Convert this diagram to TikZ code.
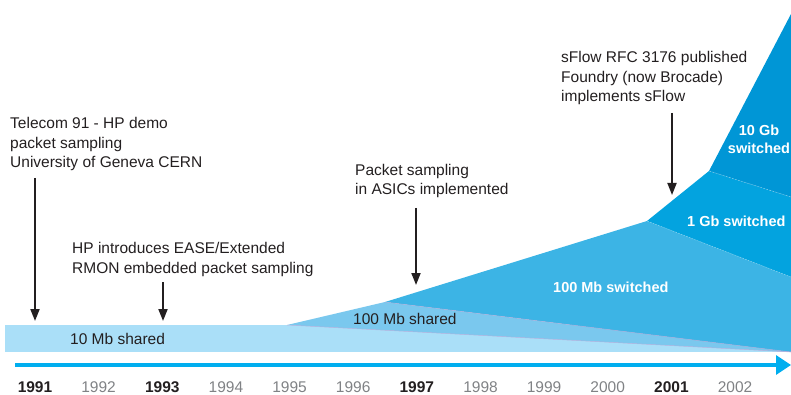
\documentclass[tikz,border=0pt]{standalone}
\usepackage{fontspec}
\setmainfont{Liberation Sans}
\usetikzlibrary{arrows.meta}

\definecolor{ink}{HTML}{231F20}
\definecolor{yeargray}{HTML}{808285}
\definecolor{tenshared}{HTML}{AADFF8}
\definecolor{hundredshared}{HTML}{7AC8EE}
\definecolor{hundredswitched}{HTML}{3CB4E5}
\definecolor{gigswitched}{HTML}{03A3DF}
\definecolor{tengigswitched}{HTML}{0096D6}
\definecolor{timeline}{HTML}{00AEEF}
\definecolor{seam}{HTML}{C9A6D6}

\begin{document}
\begin{tikzpicture}[x=1pt,y=-1pt,
  % multi-line notes are anchored on the baseline of their last line
  note/.style={anchor=base west, inner sep=0pt, align=left, text=ink,
    font=\fontsize{15.5}{19.5}\selectfont},
  yearlabel/.style={anchor=base, inner sep=0pt, font=\fontsize{15.5}{19}\selectfont},
  majoryear/.style={yearlabel, text=ink, font=\bfseries\fontsize{15.5}{19}\selectfont},
  minoryear/.style={yearlabel, text=yeargray},
  bandlabel/.style={anchor=base west, inner sep=0pt, text=ink,
    font=\fontsize{15.5}{19}\selectfont},
  switchlabel/.style={anchor=base west, inner sep=0pt, text=white, align=center,
    font=\bfseries\fontsize{14.5}{18}\selectfont},
  pointer/.style={draw=ink, line width=1.8pt, -{Triangle[length=12pt,width=9pt]}},
  sharedseam/.style={draw=seam, line width=0.5pt, opacity=0.7},
  switchseam/.style={draw=white, line width=0.5pt, opacity=0.35, dash pattern=on 2pt off 1pt}
]
\useasboundingbox (0,0) rectangle (791,395);

% technology layers, back to front
\fill[tenshared] (5,325) rectangle (791,352);
\fill[hundredshared] (287,325) -- (385,302) -- (791,352) -- cycle;
\fill[hundredswitched] (385,302) -- (647,221) -- (791,277) -- (791,352) -- cycle;
\fill[gigswitched] (647,221) -- (709,171) -- (791,197) -- (791,277) -- cycle;
\fill[tengigswitched] (709,171) -- (791,14) -- (791,197) -- cycle;

% seams between layers
\draw[sharedseam] (287,325) -- (791,352);
\draw[sharedseam] (385,302) -- (791,352);
\draw[switchseam] (647,221) -- (791,277);
\draw[switchseam] (709,171) -- (791,197);

% layer labels
\node[bandlabel] (lbl10s) at (70,344) {10 Mb shared};
\node[bandlabel] (lbl100s) at (353,324) {100 Mb shared};
\node[switchlabel] (lbl100w) at (553,292) {100 Mb switched};
\node[switchlabel] (lbl1g) at (687,226) {1 Gb switched};
\node[switchlabel, anchor=base] (lbl10g) at (759,154) {10 Gb\\switched};

% timeline
\coordinate (tstart) at (15,365);
\coordinate (tend) at (791,365);
\draw[timeline, line width=3.4pt, -{Triangle[length=15pt,width=19pt]}] (tstart) -- (tend);

% years
\node[majoryear] (y1991) at (35,392) {1991};
\node[minoryear] (y1992) at (98.6,392) {1992};
\node[majoryear] (y1993) at (162.3,392) {1993};
\node[minoryear] (y1994) at (225.9,392) {1994};
\node[minoryear] (y1995) at (289.5,392) {1995};
\node[minoryear] (y1996) at (353.2,392) {1996};
\node[majoryear] (y1997) at (416.8,392) {1997};
\node[minoryear] (y1998) at (480.5,392) {1998};
\node[minoryear] (y1999) at (544.1,392) {1999};
\node[minoryear] (y2000) at (607.7,392) {2000};
\node[majoryear] (y2001) at (671.4,392) {2001};
\node[minoryear] (y2002) at (735,392) {2002};

% milestones
\node[note] (telecom) at (10,168) {Telecom 91 - HP demo\\packet sampling\\University of Geneva CERN};
\node[note] (ease) at (72,273) {HP introduces EASE/Extended\\RMON embedded packet sampling};
\node[note] (asics) at (355,195) {Packet sampling\\in ASICs implemented};
\node[note] (sflow) at (561,102) {sFlow RFC 3176 published\\Foundry (now Brocade)\\implements sFlow};

\coordinate (p1s) at (35,178);  \coordinate (p1e) at (35,321);
\coordinate (p2s) at (163,282); \coordinate (p2e) at (163,321);
\coordinate (p3s) at (416,208); \coordinate (p3e) at (416,285);
\coordinate (p4s) at (672,113); \coordinate (p4e) at (672,195);
\draw[pointer] (p1s) -- (p1e);
\draw[pointer] (p2s) -- (p2e);
\draw[pointer] (p3s) -- (p3e);
\draw[pointer] (p4s) -- (p4e);
\end{tikzpicture}
\end{document}
